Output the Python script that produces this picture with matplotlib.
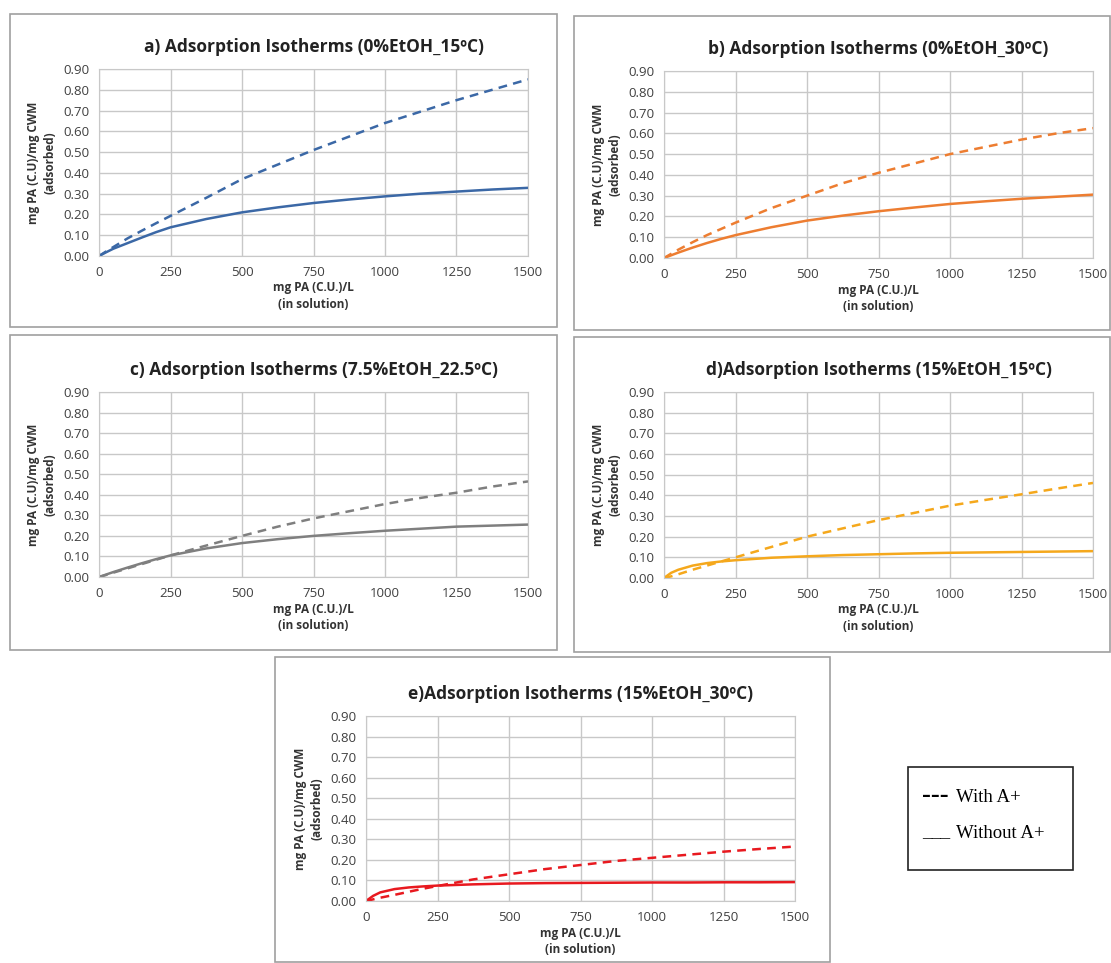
import numpy as np
import matplotlib
matplotlib.use("Agg")
import matplotlib.pyplot as plt
from matplotlib.patches import Rectangle

W, H = 1111, 963

# concentration in solution (mg PA (C.U.)/L)
conc = [0, 25, 50, 100, 150, 200, 250, 375, 500, 625, 750, 875, 1000, 1125, 1250, 1375, 1500]

a_with = [0, 0.022, 0.043, 0.085, 0.122, 0.158, 0.193, 0.28, 0.37, 0.44, 0.51, 0.575, 0.64, 0.695, 0.75, 0.80, 0.85]
a_without = [0, 0.018, 0.035, 0.062, 0.089, 0.115, 0.138, 0.178, 0.21, 0.234, 0.255, 0.272, 0.287, 0.30, 0.31, 0.32, 0.328]

b_with = [0, 0.02, 0.04, 0.076, 0.11, 0.14, 0.17, 0.24, 0.30, 0.36, 0.41, 0.455, 0.50, 0.535, 0.57, 0.60, 0.625]
b_without = [0, 0.013, 0.026, 0.05, 0.072, 0.092, 0.11, 0.148, 0.18, 0.204, 0.225, 0.243, 0.26, 0.273, 0.285, 0.295, 0.305]

c_with = [0, 0.01, 0.021, 0.042, 0.063, 0.084, 0.105, 0.153, 0.20, 0.245, 0.285, 0.32, 0.355, 0.385, 0.41, 0.44, 0.465]
c_without = [0, 0.012, 0.024, 0.046, 0.067, 0.087, 0.105, 0.139, 0.165, 0.184, 0.20, 0.213, 0.225, 0.235, 0.245, 0.25, 0.255]

d_with = [0, 0.008, 0.018, 0.04, 0.06, 0.08, 0.10, 0.15, 0.20, 0.24, 0.28, 0.315, 0.35, 0.378, 0.405, 0.433, 0.46]
d_without = [0, 0.025, 0.04, 0.06, 0.072, 0.08, 0.086, 0.098, 0.105, 0.111, 0.115, 0.119, 0.122, 0.124, 0.126, 0.128, 0.13]

e_with = [0, 0.008, 0.016, 0.03, 0.045, 0.06, 0.073, 0.105, 0.13, 0.155, 0.175, 0.195, 0.21, 0.225, 0.24, 0.253, 0.265]
e_without = [0, 0.025, 0.042, 0.058, 0.066, 0.071, 0.075, 0.081, 0.085, 0.087, 0.088, 0.089, 0.09, 0.09, 0.091, 0.091, 0.092]

titles = [
    "a) Adsorption Isotherms (0%EtOH_15\u00baC)",
    "b) Adsorption Isotherms (0%EtOH_30\u00baC)",
    "c) Adsorption Isotherms (7.5%EtOH_22.5\u00baC)",
    "d)Adsorption Isotherms (15%EtOH_15\u00baC)",
    "e)Adsorption Isotherms (15%EtOH_30\u00baC)",
]
colors = ["#3b68a6", "#ed7d31", "#7f7f7f", "#f5a81c", "#e8191f"]
series = [(a_with, a_without), (b_with, b_without), (c_with, c_without),
          (d_with, d_without), (e_with, e_without)]

# pixel layout: panel frame (x0, y0, x1, y1) and plot area (left, top, right, bottom)
frames = [(10, 14, 557, 327), (574, 16, 1110, 330), (10, 335, 557, 650),
          (574, 337, 1110, 652), (275, 657, 830, 962)]
plots = [(99, 69, 528, 256), (664, 71, 1093, 258), (99, 392, 528, 577),
         (664, 392, 1093, 578), (366, 716, 795, 901)]

plt.rcParams['font.family'] = ['Open Sans', 'DejaVu Sans']

fig = plt.figure(figsize=(W / 100, H / 100), dpi=100)


def px_rect(x0, y0, x1, y1):
    return [x0 / W, 1 - y1 / H, (x1 - x0) / W, (y1 - y0) / H]


for i in range(5):
    fx0, fy0, fx1, fy1 = frames[i]
    fig.patches.append(Rectangle((fx0 / W, 1 - fy1 / H), (fx1 - fx0) / W, (fy1 - fy0) / H,
                                 transform=fig.transFigure, fill=False,
                                 edgecolor="#a0a0a0", linewidth=1.2))
    l, t, r, b = plots[i]
    ax = fig.add_axes(px_rect(l, t, r, b))
    w, wo = series[i]
    ax.plot(conc, w, color=colors[i], linewidth=1.8, linestyle=(0, (3.5, 2.5)))
    ax.plot(conc, wo, color=colors[i], linewidth=1.8)
    ax.set_xlim(0, 1500)
    ax.set_ylim(0, 0.9)
    ax.set_xticks(np.arange(0, 1501, 250))
    ax.set_yticks(np.arange(0, 0.91, 0.1))
    ax.set_yticklabels(["%.2f" % v for v in np.arange(0, 0.91, 0.1)])
    ax.grid(True, color="#c8c8c8", linewidth=1.0)
    ax.set_axisbelow(True)
    for s in ax.spines.values():
        s.set_color("#c8c8c8")
    ax.tick_params(length=0, labelsize=9.5, labelcolor="#404040", pad=7)
    ax.set_xlabel("mg PA (C.U.)/L\n(in solution)", fontsize=8.5, fontweight="bold",
                  color="#333333", labelpad=2, linespacing=1.3)
    ax.set_ylabel("mg PA (C.U)/mg CWM\n(adsorbed)", fontsize=8.5, fontweight="bold",
                  color="#333333", labelpad=5, linespacing=1.3)
    ax.set_title(titles[i], fontsize=12.5, fontweight="bold", color="#222222", pad=12)

# legend box
fig.patches.append(Rectangle((908 / W, 1 - 870 / H), 165 / W, 103 / H,
                             transform=fig.transFigure, fill=False,
                             edgecolor="#222222", linewidth=1.2))
fig.text(922 / W, 1 - 795 / H, "---", fontsize=19, family="Liberation Serif",
         fontweight="bold", va="center", ha="left")
fig.text(956 / W, 1 - 797 / H, "With A+", fontsize=13.5, family="Liberation Serif",
         va="center", ha="left")
fig.text(922 / W, 1 - 833 / H, "___", fontsize=13.5, family="Liberation Serif",
         va="center", ha="left")
fig.text(956 / W, 1 - 833 / H, "Without A+", fontsize=13.5, family="Liberation Serif",
         va="center", ha="left")

fig.savefig("out.png", dpi=100)
